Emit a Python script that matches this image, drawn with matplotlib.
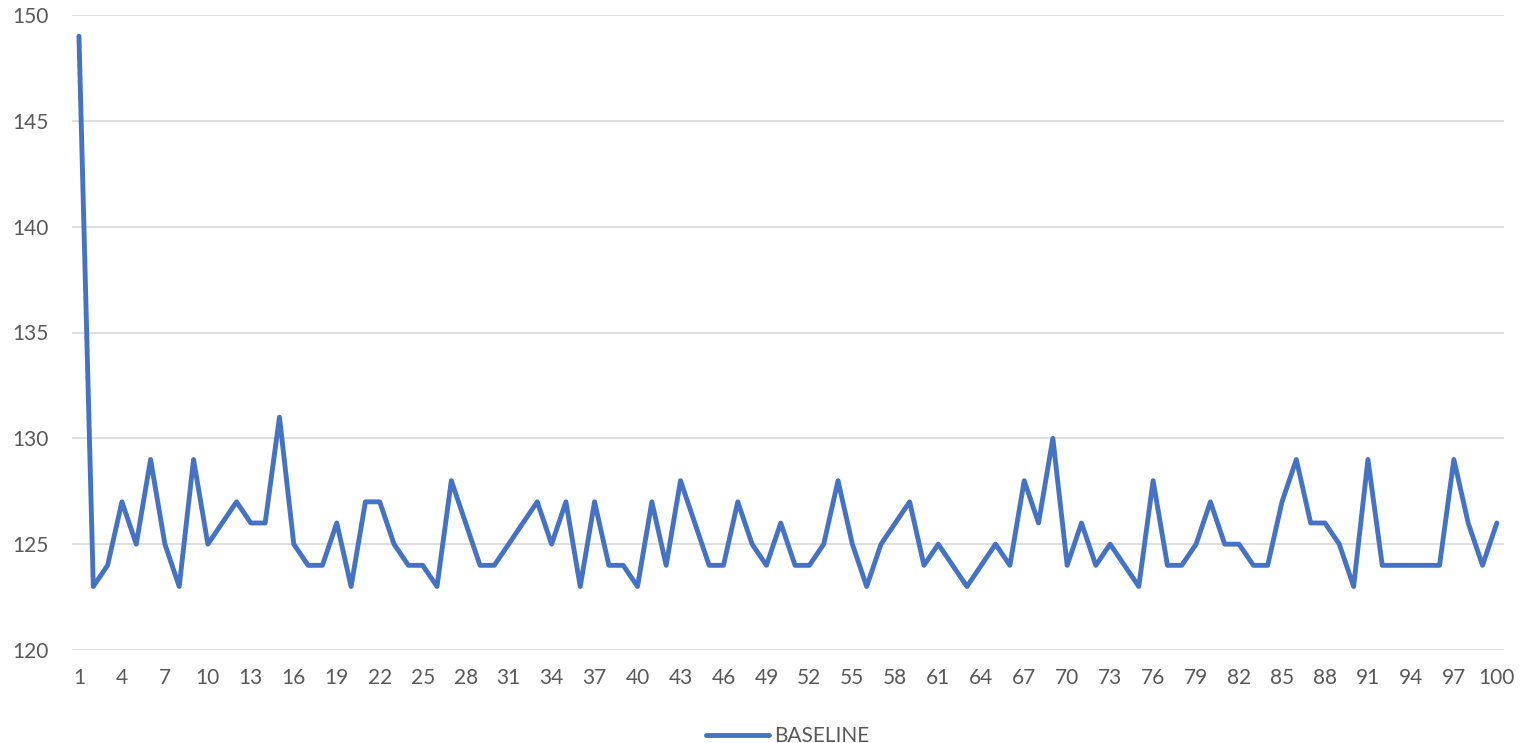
import matplotlib.pyplot as plt
import numpy as np

plt.rcParams['font.family'] = ['Lato', 'DejaVu Sans']

runs = list(range(1, 101))
baseline = [149, 123, 124, 127, 125, 129, 125, 123, 129, 125,
            126, 127, 126, 126, 131, 125, 124, 124, 126, 123,
            127, 127, 125, 124, 124, 123, 128, 126, 124, 124,
            125, 126, 127, 125, 127, 123, 127, 124, 124, 123,
            127, 124, 128, 126, 124, 124, 127, 125, 124, 126,
            124, 124, 125, 128, 125, 123, 125, 126, 127, 124,
            125, 124, 123, 124, 125, 124, 128, 126, 130, 124,
            126, 124, 125, 124, 123, 128, 124, 124, 125, 127,
            125, 125, 124, 124, 127, 129, 126, 126, 125, 123,
            129, 124, 124, 124, 124, 124, 129, 126, 124, 126]
y_ticks = [120, 125, 130, 135, 140, 145, 150]

fig = plt.figure(figsize=(15.24, 7.43), dpi=100)
ax = fig.add_axes([71.8 / 1524, 93 / 743, (1504 - 71.8) / 1524, 635 / 743])

ax.plot(runs, baseline, color='#4472C4', linewidth=3.5,
        solid_joinstyle='round', solid_capstyle='round', label='BASELINE')

ax.set_xlim(0.5, 100.5)
ax.set_ylim(120, 150)
ax.set_yticks(y_ticks)
ax.set_xticks(runs[::3])
ax.grid(axis='y', color='#D9D9D9', linewidth=1.2)
ax.set_axisbelow(True)
for s in ax.spines.values():
    s.set_visible(False)
ax.tick_params(length=0, labelsize=15, labelcolor='#595959')
ax.tick_params(axis='y', pad=17)
ax.tick_params(axis='x', pad=13)

leg = ax.legend(loc='upper center', bbox_to_anchor=(0.5, -0.09), frameon=False,
                fontsize=15, handlelength=3.0, handletextpad=0.25)
for t in leg.get_texts():
    t.set_color('#595959')

fig.savefig('out.png', dpi=100)
